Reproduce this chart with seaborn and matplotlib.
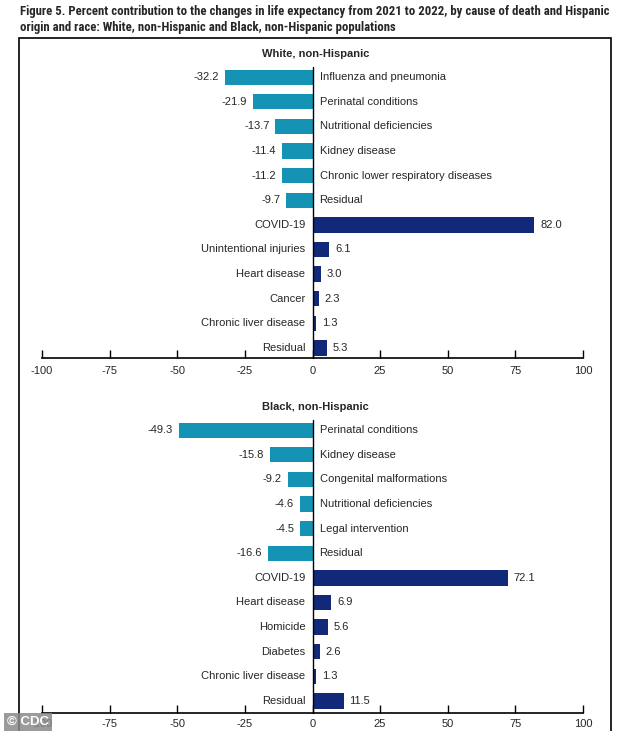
import matplotlib
matplotlib.use("Agg")
import matplotlib.pyplot as plt
import seaborn as sns
import pandas as pd
from matplotlib.patches import Rectangle
from matplotlib import font_manager

white_causes = ["Influenza and pneumonia", "Perinatal conditions", "Nutritional deficiencies",
                "Kidney disease", "Chronic lower respiratory diseases", "Residual",
                "COVID-19", "Unintentional injuries", "Heart disease", "Cancer",
                "Chronic liver disease", "Residual"]
white_values = [-32.2, -21.9, -13.7, -11.4, -11.2, -9.7, 82.0, 6.1, 3.0, 2.3, 1.3, 5.3]

black_causes = ["Perinatal conditions", "Kidney disease", "Congenital malformations",
                "Nutritional deficiencies", "Legal intervention", "Residual",
                "COVID-19", "Heart disease", "Homicide", "Diabetes",
                "Chronic liver disease", "Residual"]
black_values = [-49.3, -15.8, -9.2, -4.6, -4.5, -16.6, 72.1, 6.9, 5.6, 2.6, 1.3, 11.5]

panel_titles = ["White, non-Hispanic", "Black, non-Hispanic"]
x_ticks = [-100, -75, -50, -25, 0, 25, 50, 75, 100]

TEAL = "#1593b4"
NAVY = "#12297a"

sns.set_theme(style="white")
plt.rcParams['font.family'] = ['Liberation Sans', 'DejaVu Sans']

installed = {f.name for f in font_manager.fontManager.ttflist}
if "Liberation Sans Narrow" in installed:
    title_family, title_size = "Liberation Sans Narrow", 9.2
elif "Roboto Condensed" in installed:
    title_family, title_size = "Roboto Condensed", 9.2
elif "Open Sans Condensed" in installed:
    title_family, title_size = "Open Sans Condensed", 9.2
else:
    title_family, title_size = "Liberation Sans", 7.6

W, H = 634, 731
fig = plt.figure(figsize=(W / 100, H / 100), dpi=100)

def px_axes(left, top, right, bottom):
    return fig.add_axes([left / W, 1 - bottom / H, (right - left) / W, (bottom - top) / H])

fig.patches.append(Rectangle((19 / W, -0.01), (611 - 19) / W, 1 - 38 / H + 0.01,
                             transform=fig.transFigure, fill=False,
                             edgecolor="black", linewidth=1.2))

fig.text(20 / W, 1 - 5 / H,
         "Figure 5. Percent contribution to the changes in life expectancy from 2021 to 2022, by cause of death and Hispanic\n"
         "origin and race: White, non-Hispanic and Black, non-Hispanic populations",
         ha="left", va="top", fontsize=title_size, fontweight="bold", linespacing=1.3,
         family=[title_family, "DejaVu Sans"])

panels = [(white_causes, white_values, 60, 358, 11.41, 6),
          (black_causes, black_values, 413, 713, 11.49, 4)]

for (causes, values, top, bottom, ybot, pad), ptitle in zip(panels, panel_titles):
    ax = px_axes(42, top, 583, bottom)
    df = pd.DataFrame({"row": list(range(len(values))), "value": values,
                       "sign": ["neg" if v < 0 else "pos" for v in values]})
    sns.barplot(data=df, x="value", y="row", hue="sign", orient="h",
                palette={"neg": TEAL, "pos": NAVY}, dodge=False, width=0.62,
                saturation=1, legend=False, ax=ax, edgecolor="none")
    ax.set_xlim(-100, 100)
    ax.set_ylim(ybot, -0.7)
    for s in ["top", "left", "right"]:
        ax.spines[s].set_visible(False)
    ax.spines["bottom"].set_color("black")
    ax.spines["bottom"].set_linewidth(1.2)
    ax.set_yticks([])
    ax.set_xticks(x_ticks)
    ax.set_xticklabels([str(t) for t in x_ticks])
    ax.tick_params(axis="x", direction="in", length=6, width=1, color="black",
                   labelsize=8, pad=pad, bottom=True)
    ax.set_xlabel("")
    ax.set_ylabel("")
    ax.plot([0, 0], [-0.4, ybot], color="black", linewidth=1, clip_on=False)
    for i, (c, v) in enumerate(zip(causes, values)):
        if v < 0:
            ax.text(v - 2.2, i, f"{v:.1f}", ha="right", va="center", fontsize=8)
            ax.text(2.6, i, c, ha="left", va="center", fontsize=8)
        else:
            ax.text(v + 2.2, i, f"{v:.1f}", ha="left", va="center", fontsize=8)
            ax.text(-2.6, i, c, ha="right", va="center", fontsize=8)
    ax.text(1, -0.95, ptitle, ha="center", va="center", fontsize=8, fontweight="bold")
    ax.patch.set_alpha(0)

fig.text(7 / W, 3 / H, "© CDC", ha="left", va="bottom", fontsize=9.5, color="white",
         fontweight="bold",
         bbox=dict(boxstyle="square,pad=0.2", facecolor="#8a8a8a", edgecolor="none", alpha=0.85))

fig.savefig("out.png", dpi=100)
